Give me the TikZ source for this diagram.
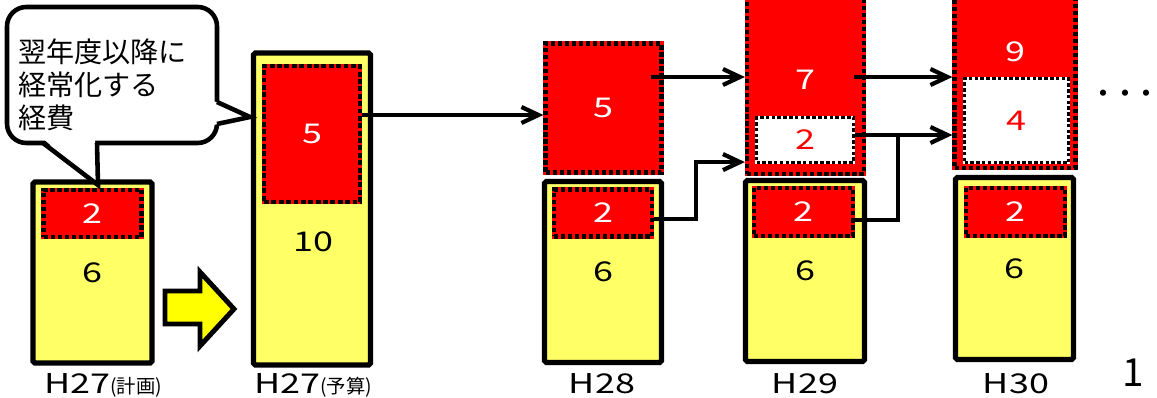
\documentclass[tikz,border=0pt]{standalone}
\usepackage{fontspec}
\setmainfont{Noto Sans CJK JP}
\newfontfamily\widefont[FakeStretch=1.32]{Noto Sans CJK JP}
\usepackage{xcolor}
\definecolor{boxyellow}{HTML}{FFFF66}
\definecolor{arrowyellow}{HTML}{FFFF00}
\definecolor{costred}{HTML}{FF0000}
\usetikzlibrary{arrows.meta,calc}
\tikzset{
  >={Straight Barb[length=3.4mm,width=3.2mm]},
  yearbox/.style ={draw=black,fill=boxyellow,line width=3pt,
                   rounded corners=1pt,inner sep=0pt,
                   font=\widefont\fontsize{15.5pt}{15.5pt}\selectfont},
  costbox/.style ={draw=black,fill=costred,line width=2.4pt,
                   dash pattern=on 2.4pt off 1.6pt,inner sep=0pt,
                   preaction={draw=costred,solid,line width=2.4pt},
                   text=white,font=\widefont\fontsize{15.5pt}{15.5pt}\selectfont},
  newbox/.style  ={costbox,fill=white,text=costred,line width=2pt,
                   dash pattern=on 2pt off 1.3pt,
                   preaction={draw=white,solid,line width=2pt}},
  num/.style     ={font=\widefont\fontsize{15.5pt}{15.5pt}\selectfont,inner sep=0pt},
  yearlbl/.style ={font=\widefont\fontsize{15.5pt}{16pt}\selectfont,anchor=base,inner sep=0pt},
  callout/.style ={draw=black,line width=2.6pt,fill=white},
  flow/.style    ={->,draw=black,line width=2.4pt},
  link/.style    ={draw=black,line width=2.4pt},
}
\newcommand{\sub}[1]{{\normalfont\fontsize{11pt}{11pt}\selectfont(#1)}}

\begin{document}
\begin{tikzpicture}[x=0.02cm,y=-0.02cm]
\useasboundingbox (0,0) rectangle (1157,398);
\clip (0,0) rectangle (1157,398);
% year columns
\node[yearbox,minimum width=2.38cm,minimum height=3.62cm] (y27p) at (92.5,272.5) {6};
\node[yearbox,minimum width=2.34cm,minimum height=6.24cm] (y27b) at (312,209) {};
\node[yearbox,minimum width=2.34cm,minimum height=3.62cm] (y28) at (603,272) {6};
\node[yearbox,minimum width=2.38cm,minimum height=3.62cm] (y29) at (805,271) {6};
\node[yearbox,minimum width=2.36cm,minimum height=3.64cm] (y30) at (1014.5,268.5) {6};
\node[num] (v27b) at (313,242) {10};
% recurring costs inside the columns
\node[costbox,minimum width=1.96cm,minimum height=0.94cm] (c27p) at (92.5,213.5) {2};
\node[costbox,minimum width=1.92cm,minimum height=2.72cm,line width=2.8pt,
      dash pattern=on 2.8pt off 1.4pt,preaction={draw=costred,solid,line width=2.8pt}]
      (c27b) at (312,134) {5};
\node[costbox,minimum width=1.96cm,minimum height=0.94cm] (c28) at (603,213) {2};
\node[costbox,minimum width=1.98cm,minimum height=0.96cm] (c29) at (803.5,212) {2};
\node[costbox,minimum width=1.98cm,minimum height=0.96cm] (c30) at (1015.5,212) {2};
% stacked on top
\node[costbox,minimum width=2.32cm,minimum height=2.58cm] (c28t) at (603.5,108) {5};
\node[costbox,minimum width=2.34cm,minimum height=3.88cm] (c29t) at (805.5,77) {};
\node[costbox,minimum width=2.42cm,minimum height=3.76cm] (c30t) at (1015,74) {};
\node[num,text=white] (v29t) at (805,80) {7};
\node[num,text=white] (v30t) at (1015,52) {9};
\node[newbox,minimum width=1.94cm,minimum height=0.9cm] (n29) at (805,140) {2};
\node[newbox,minimum width=2.08cm,minimum height=1.68cm] (n30) at (1016.5,120.5) {4};
% labels
\node[yearlbl] (l27p) at (103,394) {H27\sub{計画}};
\node[yearlbl] (l27b) at (313,394) {H27\sub{予算}};
\node[yearlbl] (l28) at (602,394) {H28};
\node[yearlbl] (l29) at (805,394) {H29};
\node[yearlbl] (l30) at (1016,394) {H30};
\node[font=\bfseries\fontsize{12.5pt}{12.5pt}\selectfont,inner sep=0pt] (more) at (1125,96) {・・・};
\node[font=\fontsize{22pt}{22pt}\selectfont,anchor=base,inner sep=0pt] (page) at (1133,387) {1};
% big yellow arrow
\draw[line width=2.8pt,fill=arrowyellow,line join=miter]
  (165,291) -- (200,291) -- (200,272) -- (234,309) -- (200,346) -- (200,324) -- (165,324) -- cycle;
% callout
\draw[callout,rounded corners=11pt] (7,7) rectangle (217,143);
\fill[white] (44,139.5) -- (97,185) -- (95,139.5) -- cycle;
\fill[white] (213.5,101) -- (250,117) -- (213.5,125) -- cycle;
\draw[callout,fill=none,line join=miter] (43,143) -- (98,185) -- (97,143);
\draw[callout,fill=none,line join=miter] (217,102) -- (250,117) -- (217,124);
\node[font=\fontsize{16pt}{18.7pt}\selectfont,align=left,anchor=west,inner sep=0pt] (note) at (18,85)
  {翌年度以降に\\経常化する\\経費};
% connectors
\coordinate (a1) at ($(c27b.east)+(0,-19)$);
\draw[flow] (a1) -- (a1 -| c28t.west);
\coordinate (a2) at ($(c28t.east)+(-13,-31)$);
\draw[flow] (a2) -- (a2 -| c29t.west);
\coordinate (a3) at ($(c29t.south west)+(0,-14)$);
\draw[flow] ($(c28.east)+(0,6)$) -- ++(42,0) |- (a3);
\coordinate (a4) at ($(n29.east)+(0,-5)$);
\draw[flow] (a4) -- (a4 -| c30t.west);
\draw[link] ($(c29.east)+(0,8)$) -| ($(a4)+(43,0)$);
\coordinate (a5) at ($(c29t.east)+(-12,0)$);
\draw[flow] (a5) -- (a5 -| c30t.west);
\end{tikzpicture}
\end{document}
